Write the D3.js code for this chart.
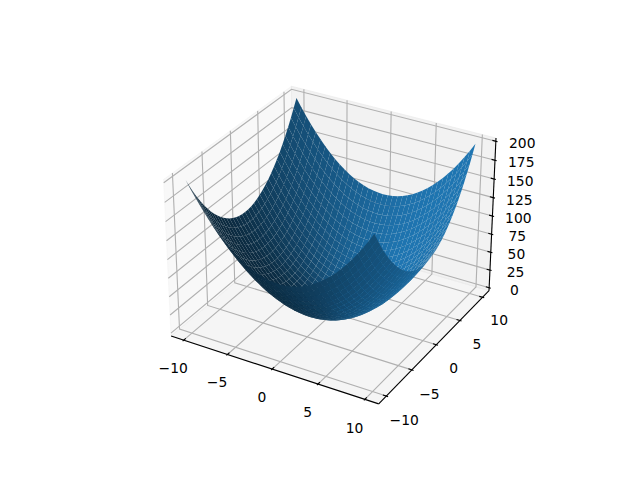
<!DOCTYPE html>
<html><head><meta charset="utf-8">
<style>html,body{margin:0;padding:0;background:#fff}svg{display:block}text{font-family:"DejaVu Sans";font-size:13.89px;fill:#000}</style>
<script src="https://cdn.jsdelivr.net/npm/d3@7"></script></head><body><script>
const gridCoords = [-10,-9.444,-8.889,-8.333,-7.778,-7.222,-6.667,-6.111,-5.556,-5,-4.444,-3.889,-3.333,-2.778,-2.222,-1.667,-1.111,-0.556,0,0.556,1.111,1.667,2.222,2.778,3.333,3.889,4.444,5,5.556,6.111,6.667,7.222,7.778,8.333,8.889,9.444,10];
const gridHeights = [100,89.20,79.01,69.44,60.49,52.16,44.44,37.35,30.86,25,19.75,15.12,11.11,7.72,4.94,2.78,1.23,0.31,0,0.31,1.23,2.78,4.94,7.72,11.11,15.12,19.75,25,30.86,37.35,44.44,52.16,60.49,69.44,79.01,89.20,100];
const xTicks = [-10,-5,0,5,10];
const yTicks = [-10,-5,0,5,10];
const zTicks = [0,25,50,75,100,125,150,175,200];
const xLim = [-11,11], yLim = [-11,11], zLim = [0,200];
const surfaceColor = [31,119,180];

const W=640,H=480;
const elev=30*Math.PI/180, azim=-60*Math.PI/180, dist=10;
const norm=Math.hypot(4,4,3), k=1.8294640721620434/norm;
const box=[4*k,4*k,3*k];
const wx=d3.scaleLinear().domain(xLim).range([0,box[0]]);
const wy=d3.scaleLinear().domain(yLim).range([0,box[1]]);
const wz=d3.scaleLinear().domain(zLim).range([0,box[2]]);
const sub=(a,b)=>a.map((v,i)=>v-b[i]);
const dot=(a,b)=>a[0]*b[0]+a[1]*b[1]+a[2]*b[2];
const cross=(a,b)=>[a[1]*b[2]-a[2]*b[1],a[2]*b[0]-a[0]*b[2],a[0]*b[1]-a[1]*b[0]];
const unit=a=>{const n=Math.hypot(...a);return a.map(v=>v/n)};
const R=box.map(v=>v/2);
const nDir=[Math.cos(elev)*Math.cos(azim),Math.cos(elev)*Math.sin(azim),Math.sin(elev)];
const E=R.map((v,i)=>v+dist*nDir[i]);
const nV=unit(sub(E,R)), uV=unit(cross([0,0,1],nV)), vV=cross(nV,uV);
const px=d3.scaleLinear().domain([-0.095,0.09]).range([143.2,512.8]);
const py=d3.scaleLinear().domain([-0.095,0.09]).range([427.2,57.6]);
function project(p){
  const q=sub([wx(p[0]),wy(p[1]),wz(p[2])],E);
  const w=-dot(nV,q);
  return {x:px(dot(uV,q)/w),y:py(dot(vV,q)/w),t:-dist/w};
}
const pad=(l)=>{const d=(l[1]-l[0])/12;return [l[0]-d/4,l[1]+d/4]};
const xP=pad(xLim),yP=pad(yLim),zP=pad(zLim);
const dx=(xLim[1]-xLim[0])/12,dy=(yLim[1]-yLim[0])/12,dz=(zLim[1]-zLim[0])/12;

const svg=d3.select("body").append("svg").attr("width",W).attr("height",H);
const line=d3.line().x(d=>project(d).x).y(d=>project(d).y);

const panes=[
 {pts:[[xP[0],yP[0],zP[0]],[xP[0],yP[1],zP[0]],[xP[0],yP[1],zP[1]],[xP[0],yP[0],zP[1]]],c:"rgb(242,242,242)"},
 {pts:[[xP[0],yP[1],zP[0]],[xP[1],yP[1],zP[0]],[xP[1],yP[1],zP[1]],[xP[0],yP[1],zP[1]]],c:"rgb(230,230,230)"},
 {pts:[[xP[0],yP[0],zP[0]],[xP[1],yP[0],zP[0]],[xP[1],yP[1],zP[0]],[xP[0],yP[1],zP[0]]],c:"rgb(236,236,236)"}];
svg.append("g").selectAll("path").data(panes).join("path")
 .attr("d",d=>line(d.pts)+"Z").attr("fill",d=>d.c).attr("stroke",d=>d.c)
 .attr("fill-opacity",.5).attr("stroke-opacity",.5).attr("stroke-width",1);

const grid=[
 ...xTicks.map(t=>[[t,yP[0],zP[0]],[t,yP[1],zP[0]],[t,yP[1],zP[1]]]),
 ...yTicks.map(t=>[[xP[0],t,zP[1]],[xP[0],t,zP[0]],[xP[1],t,zP[0]]]),
 ...zTicks.map(t=>[[xP[0],yP[0],t],[xP[0],yP[1],t],[xP[1],yP[1],t]])];
svg.append("g").selectAll("path").data(grid).join("path").attr("d",line)
 .attr("fill","none").attr("stroke","#b0b0b0").attr("stroke-width",1.11);

const axes=[
 [[xP[0],yP[0],zP[0]],[xP[1],yP[0],zP[0]]],
 [[xP[1],yP[0],zP[0]],[xP[1],yP[1],zP[0]]],
 [[xP[1],yP[1],zP[0]],[xP[1],yP[1],zP[1]]]];
const tickSegs=[
 ...xTicks.map(t=>[[t,yP[0]+.2*dy,zP[0]],[t,yP[0]-.1*dy,zP[0]]]),
 ...yTicks.map(t=>[[xP[1]-.2*dx,t,zP[0]],[xP[1]+.1*dx,t,zP[0]]]),
 ...zTicks.map(t=>[[xP[1]-.2*dx,yP[1],t],[xP[1]+.1*dx,yP[1],t]])];
svg.append("g").selectAll("path").data(axes.concat(tickSegs)).join("path").attr("d",line)
 .attr("fill","none").attr("stroke","#000").attr("stroke-width",1.11);

const lab=11.5*48/532;
const fmt=v=>String(v).replace("-","\u2212");
const labels=[
 ...xTicks.map(t=>({v:t,p:[t,yP[0]-lab*dy,zP[0]-lab*dz]})),
 ...yTicks.map(t=>({v:t,p:[xP[1]+lab*dx,t,zP[0]-lab*dz]})),
 ...zTicks.map(t=>({v:t,p:[xP[1]+lab*dx,yP[1]+lab*dy,t]}))];
svg.append("g").selectAll("text").data(labels).join("text")
 .attr("x",d=>project(d.p).x).attr("y",d=>project(d.p).y+5.5)
 .attr("text-anchor","middle").attr("dominant-baseline","central").text(d=>fmt(d.v));

const light=(()=>{const az=(90-225)*Math.PI/180,alt=19.4712*Math.PI/180;
  return [Math.cos(az)*Math.cos(alt),Math.sin(az)*Math.cos(alt),Math.sin(alt)]})();
const polys=[];
for(let i=0;i<gridCoords.length-1;i++)for(let j=0;j<gridCoords.length-1;j++){
  const vert=(a,b)=>[gridCoords[b],gridCoords[a],gridHeights[a]+gridHeights[b]];
  const pts=[vert(i,j),vert(i,j+1),vert(i+1,j+1),vert(i+1,j)];
  const nrm=unit(cross(sub(pts[0],pts[1]),sub(pts[1],pts[2])));
  const s=0.3+0.7*((dot(nrm,light)+1)/2);
  polys.push({pts,s,t:d3.mean(pts,p=>project(p).t)});
}
polys.sort((a,b)=>b.t-a.t);
svg.append("g").selectAll("path").data(polys).join("path")
 .attr("d",d=>line(d.pts)+"Z")
 .attr("fill",d=>`rgb(${surfaceColor.map(c=>c*d.s).join(",")})`);
</script></body></html>
